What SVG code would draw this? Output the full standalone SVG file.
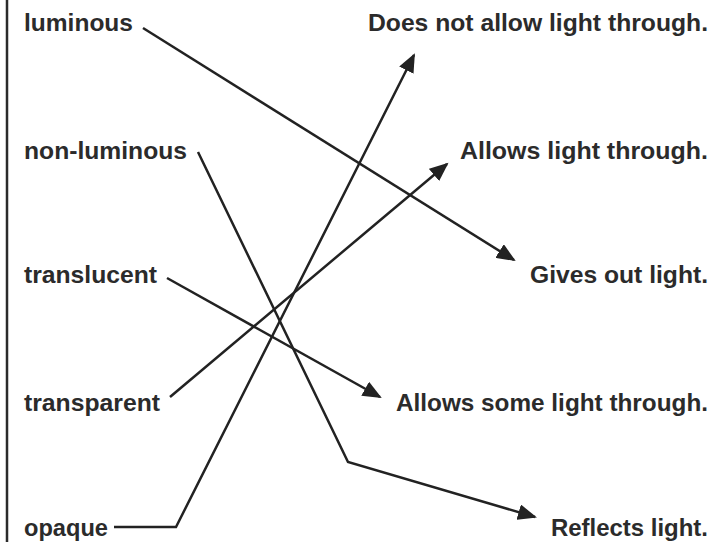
<svg xmlns="http://www.w3.org/2000/svg" width="719" height="544" viewBox="0 0 719 544">
<style>
.t{font-family:"Liberation Sans",Arial,sans-serif;font-weight:bold;font-size:24px;fill:#2b2b2b}
.r{text-anchor:end}
.c{fill:none;stroke:#222;stroke-width:2.5;stroke-linejoin:miter}
</style>
<defs>
<marker id="ah" markerUnits="userSpaceOnUse" markerWidth="20" markerHeight="16" viewBox="0 0 20 16" refX="17" refY="8" orient="auto">
<path d="M0,0 L19,8 L0,16 Z" fill="#222"/>
</marker>
</defs>
<rect width="719" height="544" fill="#fff"/>
<line x1="7" y1="0" x2="7" y2="542" stroke="#2b2b2b" stroke-width="2.5"/>
<g id="left-labels">
<g id="n-luminous"><text class="t" x="24" y="31" textLength="109" lengthAdjust="spacingAndGlyphs">luminous</text></g>
<g id="n-nonluminous"><text class="t" x="24" y="159" textLength="163" lengthAdjust="spacingAndGlyphs">non-luminous</text></g>
<g id="n-translucent"><text class="t" x="24" y="283" textLength="133" lengthAdjust="spacingAndGlyphs">translucent</text></g>
<g id="n-transparent"><text class="t" x="24" y="411" textLength="136" lengthAdjust="spacingAndGlyphs">transparent</text></g>
<g id="n-opaque"><text class="t" x="24" y="536" textLength="84" lengthAdjust="spacingAndGlyphs">opaque</text></g>
</g>
<g id="right-labels">
<g id="n-doesnot"><text class="t" x="368" y="31" textLength="340" lengthAdjust="spacingAndGlyphs">Does not allow light through.</text></g>
<g id="n-allows"><text class="t" x="460" y="159" textLength="248" lengthAdjust="spacingAndGlyphs">Allows light through.</text></g>
<g id="n-gives"><text class="t" x="530" y="283" textLength="178" lengthAdjust="spacingAndGlyphs">Gives out light.</text></g>
<g id="n-some"><text class="t" x="396" y="411" textLength="312" lengthAdjust="spacingAndGlyphs">Allows some light through.</text></g>
<g id="n-reflects"><text class="t" x="551" y="536" textLength="157" lengthAdjust="spacingAndGlyphs">Reflects light.</text></g>
</g>
<g id="connectors">
<polyline class="c" points="143,28 514,260" marker-end="url(#ah)"/>
<polyline class="c" points="198,152 348,462 535,517" marker-end="url(#ah)"/>
<polyline class="c" points="167,278 380,397" marker-end="url(#ah)"/>
<polyline class="c" points="170,397 447,164" marker-end="url(#ah)"/>
<polyline class="c" points="114,527 176,527 414,55" marker-end="url(#ah)"/>
</g>
</svg>
